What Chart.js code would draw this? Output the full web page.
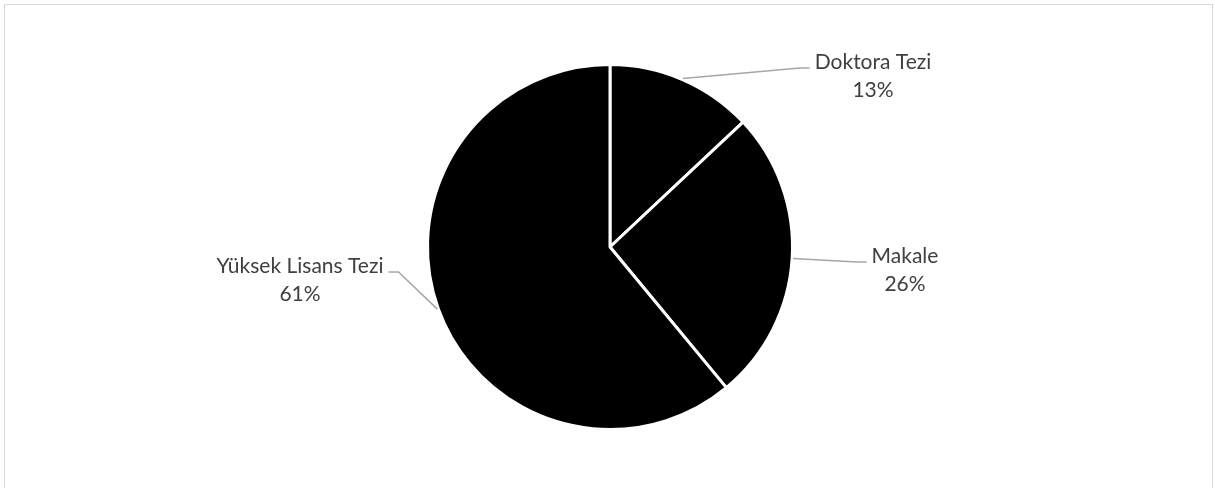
<!DOCTYPE html>
<html>
<head>
<meta charset="utf-8">
<script src="https://cdn.jsdelivr.net/npm/chart.js@4/dist/chart.umd.min.js"></script>
<style>
  html, body { margin: 0; padding: 0; background: #fff; }
  #wrap { position: relative; width: 1215px; height: 488px; overflow: hidden; }
  #frame { position: absolute; left: 4px; top: 4px; width: 1209px; height: 500px; border: 1.5px solid #d9d9d9; box-sizing: border-box; }
  canvas { position: absolute; left: 0; top: 0; }
</style>
</head>
<body>
<div id="wrap">
  <div id="frame"></div>
  <canvas id="c" width="1215" height="488"></canvas>
</div>
<script>
const categories = ["Doktora Tezi", "Makale", "Yüksek Lisans Tezi"];
const values = [13, 26, 61];
const percentLabels = ["13%", "26%", "61%"];

// label placement (text block center relative to pie center, in px) and side of leader
const labelLayout = [
  { dx: 263, dy: -171, side: "left" },
  { dx: 295, dy: 23, side: "left" },
  { dx: -310, dy: 33, side: "right" }
];

const FONT = '21px Lato';
const LINE_H = 28;

const labelPlugin = {
  id: 'excelLabels',
  afterDatasetsDraw(chart) {
    const ctx = chart.ctx;
    const meta = chart.getDatasetMeta(0);
    ctx.save();
    ctx.font = FONT;
    meta.data.forEach((arc, i) => {
      const p = arc.getProps(['x', 'y', 'startAngle', 'endAngle', 'outerRadius'], true);
      const mid = (p.startAngle + p.endAngle) / 2;
      const r = p.outerRadius + 1;
      const sx = p.x + Math.cos(mid) * r;
      const sy = p.y + Math.sin(mid) * r;
      const L = labelLayout[i];
      const cx = p.x + L.dx;
      const cy = p.y + L.dy;
      const line1 = categories[i];
      const line2 = percentLabels[i];
      const y1 = cy - LINE_H / 2;
      const y2 = cy + LINE_H / 2;
      const w1 = ctx.measureText(line1).width;
      let ex, hx;
      if (L.side === 'left') {
        const left = cx - w1 / 2;
        hx = left - 5; ex = left - 15;
      } else {
        const right = cx + w1 / 2;
        hx = right + 5; ex = right + 15;
      }
      const ey = y1 + 6;
      ctx.strokeStyle = '#a6a6a6';
      ctx.lineWidth = 1.5;
      ctx.beginPath();
      ctx.moveTo(sx, sy);
      ctx.lineTo(ex, ey);
      ctx.lineTo(hx, ey);
      ctx.stroke();
      ctx.fillStyle = '#404040';
      ctx.textAlign = 'center';
      ctx.textBaseline = 'middle';
      ctx.fillText(line1, cx, y1);
      ctx.fillText(line2, cx, y2);
    });
    ctx.restore();
  }
};

new Chart(document.getElementById('c'), {
  type: 'pie',
  data: {
    labels: categories,
    datasets: [{
      data: values,
      backgroundColor: '#000000',
      borderColor: '#ffffff',
      borderWidth: 3
    }]
  },
  options: {
    responsive: false,
    animation: false,
    events: [],
    layout: { padding: { top: 63, bottom: 57, left: 426, right: 421 } },
    plugins: {
      legend: { display: false },
      tooltip: { enabled: false },
      title: { display: false }
    }
  },
  plugins: [labelPlugin]
});
</script>
</body>
</html>
